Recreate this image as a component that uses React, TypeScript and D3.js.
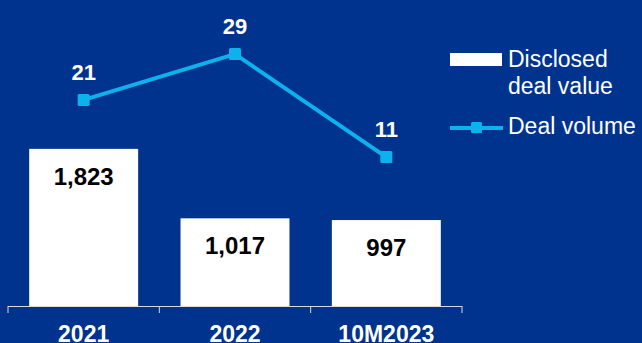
import React from "react";
import * as d3 from "d3";

const categories = ["2021", "2022", "10M2023"];
const dealValue = [1823, 1017, 997];
const dealVolume = [21, 29, 11];
const valueLabels = ["1,823", "1,017", "997"];

const W = 642;
const H = 343;
const BG = "#00338D";
const LINE = "#0CB2EE";
const FONT = "'Liberation Sans', Arial, sans-serif";

export default function App() {
  const x = d3.scaleBand<string>().domain(categories).range([8, 462]).paddingInner(0.28).paddingOuter(0.14);
  const baseY = 306;
  const yBar = d3.scaleLinear().domain([0, 3000]).range([baseY, baseY - 3000 * 0.0862]);
  const yLine = d3.scaleLinear().domain([0, 40]).range([220, 220 - 40 * 5.72]);
  const cx = (c: string) => (x(c) as number) + x.bandwidth() / 2;
  const line = d3
    .line<number>()
    .x((_, i) => cx(categories[i]))
    .y((d) => yLine(d));
  const tickXs = [0, 1, 2, 3].map((i) => 8 + i * ((462 - 8) / 3));

  return (
    <svg
      width={W}
      height={H}
      style={{ position: "absolute", left: 0, top: 0, display: "block" }}
      fontFamily={FONT}
    >
      <rect x={0} y={0} width={W} height={H} fill={BG} />
      {categories.map((c, i) => (
        <g key={c}>
          <rect
            x={x(c)}
            y={yBar(dealValue[i])}
            width={x.bandwidth()}
            height={baseY - yBar(dealValue[i])}
            fill="#FFFFFF"
          />
          <text
            x={cx(c)}
            y={yBar(dealValue[i]) + 36}
            textAnchor="middle"
            fontSize={24}
            fontWeight="bold"
            fill="#000000"
          >
            {valueLabels[i]}
          </text>
          <text x={cx(c)} y={342} textAnchor="middle" fontSize={23} fontWeight="bold" fill="#FFFFFF">
            {c}
          </text>
        </g>
      ))}
      <line x1={8} x2={462} y1={baseY + 0.5} y2={baseY + 0.5} stroke="#D9D9D9" strokeWidth={1} />
      {tickXs.map((tx, i) => (
        <line key={i} x1={tx} x2={tx} y1={baseY} y2={baseY + 7} stroke="#D9D9D9" strokeWidth={1} />
      ))}
      <path d={line(dealVolume) || ""} fill="none" stroke={LINE} strokeWidth={4} />
      {dealVolume.map((v, i) => (
        <g key={i}>
          <rect
            x={cx(categories[i]) - 6}
            y={yLine(v) - 6}
            width={12}
            height={12}
            rx={1.5}
            fill={LINE}
          />
          <text
            x={cx(categories[i])}
            y={yLine(v) - 20}
            textAnchor="middle"
            fontSize={22}
            fontWeight="bold"
            fill="#FFFFFF"
          >
            {v}
          </text>
        </g>
      ))}
      {/* Legend */}
      <rect x={450} y={53} width={52} height={13} fill="#FFFFFF" />
      <text x={508} y={67} fontSize={23} fill="#FFFFFF">
        Disclosed
      </text>
      <text x={508} y={94} fontSize={23} fill="#FFFFFF">
        deal value
      </text>
      <line x1={450} x2={503} y1={128} y2={128} stroke={LINE} strokeWidth={4} />
      <rect x={471} y={122} width={11} height={11} rx={1.5} fill={LINE} />
      <text x={508} y={134} fontSize={23} fill="#FFFFFF">
        Deal volume
      </text>
    </svg>
  );
}
